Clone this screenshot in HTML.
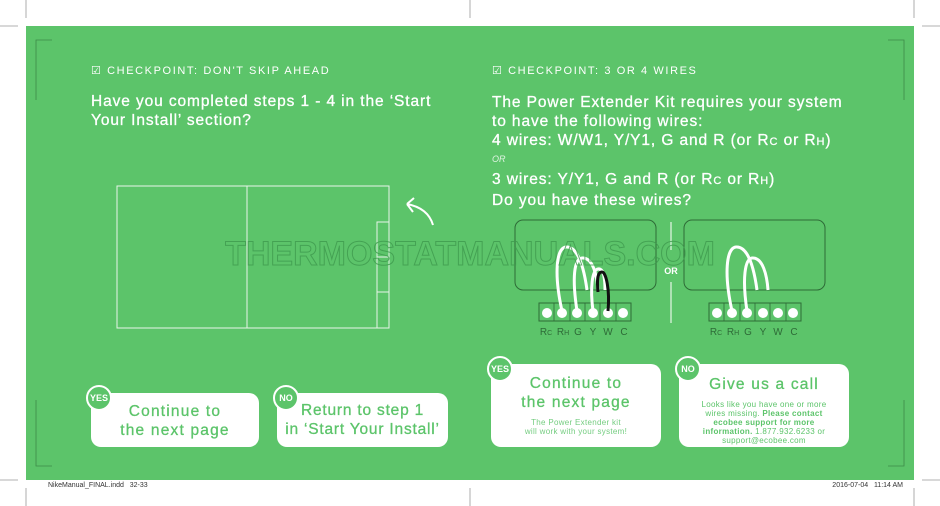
<!DOCTYPE html>
<html><head><style>
body{margin:0;width:940px;height:506px;background:#fff;position:relative;overflow:hidden;font-family:"Liberation Sans",sans-serif}
.g{position:absolute;left:26px;top:26px;width:888px;height:454px;background:#5cc46a}
.t{position:absolute;color:#fff;white-space:nowrap}
.card{position:absolute;background:#fff;border-radius:10px;color:#5cc46a;text-align:center}
.badge{position:absolute;width:22px;height:22px;border-radius:50%;background:#5cc46a;border:2px solid #fff;color:#fff;font-size:9px;font-weight:bold;text-align:center;line-height:22px}
.h{font-size:15.5px;line-height:19px;letter-spacing:0.9px;-webkit-text-stroke:0.3px #fff}
.ct{font-size:15.5px;line-height:19px;letter-spacing:1.2px;-webkit-text-stroke:0.3px #5cc46a}
</style></head><body>
<div class="g"></div>
<svg width="940" height="506" style="position:absolute;left:0;top:0">
<g stroke="#999" stroke-width="0.8" fill="none">
<line x1="26" y1="0" x2="26" y2="18"/><line x1="914" y1="0" x2="914" y2="18"/>
<line x1="0" y1="26" x2="18" y2="26"/><line x1="922" y1="26" x2="940" y2="26"/>
<line x1="26" y1="488" x2="26" y2="506"/><line x1="914" y1="488" x2="914" y2="506"/>
<line x1="0" y1="480" x2="18" y2="480"/><line x1="922" y1="480" x2="940" y2="480"/>
<line x1="470" y1="0" x2="470" y2="18"/><line x1="470" y1="488" x2="470" y2="506"/>
</g>
<g stroke="#3d8a48" stroke-width="0.8" fill="none">
<polyline points="36,100 36,40 52,40"/><polyline points="904,100 904,40 888,40"/>
<polyline points="36,400 36,466 52,466"/><polyline points="904,400 904,466 888,466"/>
</g>
<g stroke="#e8f5e9" stroke-width="1" fill="none">
<rect x="117" y="186" width="272" height="142"/>
<line x1="247" y1="186" x2="247" y2="328"/>
<polyline points="389,222 377,222 377,328"/>
<line x1="377" y1="257" x2="389" y2="257"/><line x1="377" y1="292" x2="389" y2="292"/>
</g>
<path d="M433 225 Q428 208 407 204 M407 204 L414 198 M407 204 L413 212" stroke="#fff" stroke-width="2" fill="none"/>
<g stroke="#2e6b37" stroke-width="1" fill="none">
<rect x="515" y="220" width="141" height="70" rx="8"/>
<rect x="684" y="220" width="141" height="70" rx="8"/>
</g>
<line x1="671" y1="222" x2="671" y2="250" stroke="#fff"/><line x1="671" y1="282" x2="671" y2="323" stroke="#fff"/>
<text x="671" y="274" font-size="9" font-weight="bold" fill="#fff" text-anchor="middle">OR</text>
<g stroke="#2e6b37" stroke-width="1" fill="#5cc46a">
<rect x="539" y="303" width="92" height="18"/><rect x="709" y="303" width="92" height="18"/>
</g>
<g stroke="#2e6b37" stroke-width="0.8">
<line x1="554" y1="303" x2="554" y2="321"/><line x1="570" y1="303" x2="570" y2="321"/><line x1="585" y1="303" x2="585" y2="321"/><line x1="600" y1="303" x2="600" y2="321"/><line x1="616" y1="303" x2="616" y2="321"/>
<line x1="724" y1="303" x2="724" y2="321"/><line x1="740" y1="303" x2="740" y2="321"/><line x1="755" y1="303" x2="755" y2="321"/><line x1="770" y1="303" x2="770" y2="321"/><line x1="786" y1="303" x2="786" y2="321"/>
</g>
<g fill="#fff"><circle cx="547" cy="313" r="5"/><circle cx="562" cy="313" r="5"/><circle cx="577" cy="313" r="5"/><circle cx="593" cy="313" r="5"/><circle cx="608" cy="313" r="5"/><circle cx="623" cy="313" r="5"/>
<circle cx="717" cy="313" r="5"/><circle cx="732" cy="313" r="5"/><circle cx="747" cy="313" r="5"/><circle cx="763" cy="313" r="5"/><circle cx="778" cy="313" r="5"/><circle cx="793" cy="313" r="5"/></g>
<g stroke="#fff" stroke-width="3" fill="none">
<path d="M562 311 C554 275 556 248 566 247 C578 246 584 268 587 290"/>
<path d="M577 311 C572 278 574 259 582 258 C593 257 597 276 598 290"/>
<path d="M593 311 C590 288 592 270 598 269 C604 268 605 280 605 290"/>
<path d="M732 311 C724 275 726 248 736 247 C748 246 754 268 757 290"/>
<path d="M747 311 C742 278 745 259 752 258 C763 257 767 276 768 290"/>
</g>
<path d="M608 311 C610 290 606 272 602 272 C597 272 597 282 598 292" stroke="#111" stroke-width="3" fill="none"/>
<g font-size="10" fill="#2e6b37" text-anchor="middle">
<text x="546" y="335">R<tspan font-size="7">C</tspan></text><text x="563" y="335">R<tspan font-size="7">H</tspan></text><text x="578" y="335">G</text><text x="593" y="335">Y</text><text x="608" y="335">W</text><text x="624" y="335">C</text>
<text x="716" y="335">R<tspan font-size="7">C</tspan></text><text x="733" y="335">R<tspan font-size="7">H</tspan></text><text x="748" y="335">G</text><text x="763" y="335">Y</text><text x="778" y="335">W</text><text x="794" y="335">C</text>
</g>
<text x="470" y="265" font-size="34" font-weight="bold" fill="none" stroke="#3f9a4e" stroke-width="1" text-anchor="middle" opacity="0.8">THERMOSTATMANUALS.COM</text>
</svg>
<div class="t" style="left:91px;top:64px;font-size:11px;letter-spacing:1.6px">☑ CHECKPOINT: DON'T SKIP AHEAD</div>
<div class="t h" style="left:91px;top:92px">Have you completed steps 1 - 4 in the ‘Start<br>Your Install’ section?</div>
<div class="t" style="left:492px;top:64px;font-size:11px;letter-spacing:1.6px">☑ CHECKPOINT: 3 OR 4 WIRES</div>
<div class="t h" style="left:492px;top:93px">The Power Extender Kit requires your system<br>to have the following wires:<br>4 wires: W/W1, Y/Y1, G and R (or R<span style="font-size:11px">C</span> or R<span style="font-size:11px">H</span>)</div>
<div class="t" style="left:492px;top:154px;font-size:9px;font-style:italic;opacity:.8">OR</div>
<div class="t h" style="left:492px;top:170px">3 wires: Y/Y1, G and R (or R<span style="font-size:11px">C</span> or R<span style="font-size:11px">H</span>)<br>Do you have these wires?</div>
<div class="card ct" style="left:91px;top:393px;width:168px;height:54px;padding-top:9px;box-sizing:border-box">Continue to<br>the next page</div>
<div class="card ct" style="left:277px;top:393px;width:171px;height:54px;padding-top:8px;box-sizing:border-box;letter-spacing:0.8px">Return to step 1<br>in ‘Start Your Install’</div>
<div class="card" style="left:491px;top:364px;width:170px;height:83px;padding-top:10px;box-sizing:border-box"><div class="ct">Continue to<br>the next page</div><div style="font-size:8px;line-height:9px;margin-top:6px;opacity:.85;letter-spacing:0.3px">The Power Extender kit<br>will work with your system!</div></div>
<div class="card" style="left:679px;top:364px;width:170px;height:83px;padding-top:11px;box-sizing:border-box"><div class="ct">Give us a call</div><div style="font-size:8px;line-height:9px;margin-top:6px;letter-spacing:0.3px">Looks like you have one or more<br>wires missing. <b>Please contact<br>ecobee support for more<br>information.</b> 1.877.932.6233 or<br>support@ecobee.com</div></div>
<div class="badge" style="left:86px;top:385px">YES</div>
<div class="badge" style="left:273px;top:385px">NO</div>
<div class="badge" style="left:487px;top:356px">YES</div>
<div class="badge" style="left:675px;top:356px">NO</div>
<div style="position:absolute;left:48px;top:482px;font-size:7px;color:#333">NikeManual_FINAL.indd &nbsp; 32-33</div>
<div style="position:absolute;right:37px;top:482px;font-size:7px;color:#333">2016-07-04 &nbsp; 11:14 AM</div>
</body></html>
